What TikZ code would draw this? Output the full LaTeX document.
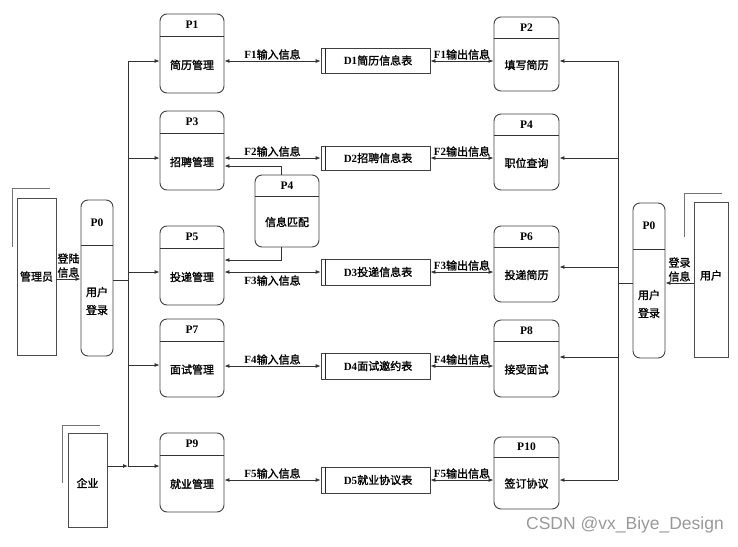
\documentclass[tikz,border=0pt]{standalone}
\usepackage{fontspec}
\setmainfont{Liberation Serif}
\newfontfamily\cjk{Noto Sans CJK SC}[FakeBold=1.4]
\newfontfamily\wmfont{Liberation Sans}
\usetikzlibrary{arrows.meta,fit,calc}
\newcommand{\zh}[1]{{\cjk #1}}
\tikzset{
  x=1pt, y=-1pt,
  line/.style={draw=black!80, line width=0.8pt},
  arr/.style={line, -{Latex[length=5pt,width=4pt]}},
  darr/.style={line, {Latex[length=5pt,width=4pt]}-{Latex[length=5pt,width=4pt]}},
  procbox/.style={draw=black!75, line width=0.9pt, rounded corners=7pt, inner sep=0pt},
  hdr/.style={draw=black!80, line width=1pt},
  plab/.style={font=\fontsize{11.5}{13}\selectfont\bfseries, inner sep=0pt},
  ptxt/.style={font=\fontsize{11}{18}\selectfont\cjk, align=center, inner sep=0pt},
  storebox/.style={draw=black!75, line width=0.8pt, inner sep=0pt},
  storeln/.style={draw=black!85, line width=0.8pt},
  stxt/.style={font=\fontsize{11}{13}\selectfont, inner sep=0pt},
  ent/.style={draw=black!70, line width=0.8pt, inner sep=0pt},
  etxt/.style={font=\fontsize{11}{13}\selectfont\cjk, inner sep=0pt},
  shadowl/.style={draw=black!55, line width=1pt},
  flab/.style={font=\fontsize{11}{13}\selectfont, inner sep=1pt},
  llab/.style={font=\fontsize{11}{14}\selectfont\cjk, align=center, inner sep=1pt},
}
\newcommand{\mkproc}[8]{%
  \node[procbox, fit={(#2,#3) (#4,#5)}] (#1) {};
  \draw[hdr] ([yshift=-#6pt]#1.north west) -- ([yshift=-#6pt]#1.north east);
  \node[plab] (#1-h) at ([yshift=-#6pt/2]#1.north) {#7};
  \node[ptxt] (#1-b) at ($([yshift=-#6pt]#1.north)!0.5!(#1.south)$) {#8};
}
\newcommand{\mkstore}[6]{%
  \node[storebox, fit={(#2,#3) (#4,#5)}] (#1) {};
  \draw[storeln] ([xshift=5pt]#1.north west) -- ([xshift=5pt]#1.south west);
  \node[stxt] (#1-t) at ([xshift=2.5pt]#1.center) {#6};
}
\begin{document}
\begin{tikzpicture}
\useasboundingbox (0,0) rectangle (738,546);

% left processes
\mkproc{p1}{160}{14}{224}{93}{23}{P1}{简历管理}
\mkproc{p3}{160}{111}{224}{190}{23}{P3}{招聘管理}
\mkproc{p5}{160}{226}{224}{305}{23}{P5}{投递管理}
\mkproc{p7}{160}{319}{224}{397}{23}{P7}{面试管理}
\mkproc{p9}{160}{433}{224}{512}{23}{P9}{就业管理}
% right processes
\mkproc{p2}{494}{17}{559}{91}{22}{P2}{填写简历}
\mkproc{p4r}{494}{114}{559}{190}{22}{P4}{职位查询}
\mkproc{p6}{494}{226}{559}{302}{22}{P6}{投递简历}
\mkproc{p8}{494}{320}{559}{397}{22}{P8}{接受面试}
\mkproc{p10}{494}{437}{559}{509}{21}{P10}{签订协议}
% matching process
\mkproc{p4}{255}{175}{319}{247}{22}{P4}{信息匹配}
% login processes
\mkproc{p0l}{81}{200}{113}{356}{46}{P0}{用户\\登录}
\mkproc{p0r}{633}{203}{665}{358}{47}{P0}{用户\\登录}

% data stores
\mkstore{d1}{321}{48}{430}{73}{\textbf{D1}\zh{简历信息表}}
\mkstore{d2}{321}{146}{430}{170}{\textbf{D2}\zh{招聘信息表}}
\mkstore{d3}{321}{259}{430}{285}{\textbf{D3}\zh{投递信息表}}
\mkstore{d4}{321}{353}{430}{379}{\textbf{D4}\zh{面试邀约表}}
\mkstore{d5}{321}{467}{430}{493}{\textbf{D5}\zh{就业协议表}}

% external entities
\draw[shadowl] (12,247) -- (12,188) -- (50,188);
\node[ent, fit={(17,198) (56,355)}] (admin) {};
\node[etxt] (admin-t) at (admin.center) {管理员};
\draw[shadowl] (62,483) -- (62,425) -- (100,425);
\node[ent, fit={(68,433) (107,527)}] (corp) {};
\node[etxt] (corp-t) at ([yshift=-3pt]corp.center) {企业};
\draw[shadowl] (684,237) -- (684,193) -- (722,193);
\node[ent, fit={(694,202) (728,357)}] (user) {};
\node[etxt] (user-t) at ([yshift=4pt]user.center) {用户};

% row coordinates
\coordinate (r1) at (0,61);
\coordinate (r2) at (0,158);
\coordinate (r3) at (0,272);
\coordinate (r4) at (0,366);
\coordinate (r5) at (0,480);

% flows process <-> store
\draw[darr] (p1.east |- r1) -- node[flab, above] (f1i) {\textbf{F1}\zh{输入信息}} (d1.west |- r1);
\draw[darr] (d1.east |- r1) -- node[flab, above] (f1o) {\textbf{F1}\zh{输出信息}} (p2.west |- r1);
\draw[darr] (p3.east |- r2) -- node[flab, above] (f2i) {\textbf{F2}\zh{输入信息}} (d2.west |- r2);
\draw[darr] (d2.east |- r2) -- node[flab, above] (f2o) {\textbf{F2}\zh{输出信息}} (p4r.west |- r2);
\draw[darr] (p5.east |- r3) -- node[flab, below, inner sep=3pt] (f3i) {\textbf{F3}\zh{输入信息}} (d3.west |- r3);
\draw[darr] (d3.east |- r3) -- node[flab, above] (f3o) {\textbf{F3}\zh{输出信息}} (p6.west |- r3);
\draw[darr] (p7.east |- r4) -- node[flab, above] (f4i) {\textbf{F4}\zh{输入信息}} (d4.west |- r4);
\draw[darr] (d4.east |- r4) -- node[flab, above] (f4o) {\textbf{F4}\zh{输出信息}} (p8.west |- r4);
\draw[darr] (p9.east |- r5) -- node[flab, above] (f5i) {\textbf{F5}\zh{输入信息}} (d5.west |- r5);
\draw[darr] (d5.east |- r5) -- node[flab, above] (f5o) {\textbf{F5}\zh{输出信息}} (p10.west |- r5);

% matching process links
\coordinate (m1) at (281,166);
\coordinate (m2) at (281,260);
\draw[arr] (p4.north -| m1) -- (m1) -- (m1 -| p3.east);
\draw[arr] (p4.south -| m2) -- (m2) -- (m2 -| p5.east);

% left bus
\coordinate (lb1) at (128,61);
\coordinate (lb3) at (128,158);
\coordinate (lb5) at (128,272);
\coordinate (lb7) at (128,365);
\coordinate (lb9) at (128,466);
\coordinate (lbp) at (128,280);
\draw[line] (lb1) -- (lb9);
\draw[arr] (lb1) -- (lb1 -| p1.west);
\draw[arr] (lb3) -- (lb3 -| p3.west);
\draw[arr] (lb5) -- (lb5 -| p5.west);
\draw[arr] (lb7) -- (lb7 -| p7.west);
\draw[arr] (lb9) -- (lb9 -| p9.west);
\draw[arr] (corp.east |- lb9) -- (lb9);
\draw[line] (p0l.east |- lbp) -- (lbp);
\coordinate (al) at (0,279);
\draw[arr] (admin.east |- al) -- node[llab, above] (al-t) {登陆\\信息} (p0l.west |- al);

% right bus
\coordinate (rb2) at (618,61);
\coordinate (rb4) at (618,158);
\coordinate (rb6) at (618,267);
\coordinate (rb8) at (618,357);
\coordinate (rb10) at (618,480);
\coordinate (rbp) at (618,283);
\draw[line] (rb2) -- (rb10);
\draw[arr] (rb2) -- (rb2 -| p2.east);
\draw[arr] (rb4) -- (rb4 -| p4r.east);
\draw[arr] (rb6) -- (rb6 -| p6.east);
\draw[arr] (rb8) -- (rb8 -| p8.east);
\draw[arr] (rb10) -- (rb10 -| p10.east);
\draw[line] (p0r.west |- rbp) -- (rbp);
\coordinate (ar) at (0,283);
\draw[arr] (user.west |- ar) -- node[llab, above] (ar-t) {登录\\信息} (p0r.east |- ar);

% watermark
\node[text=black!40, font=\fontsize{17.5}{17.5}\selectfont\wmfont, inner sep=0pt] (wm) at (625,525) {CSDN @vx\_Biye\_Design};
\end{tikzpicture}
\end{document}
